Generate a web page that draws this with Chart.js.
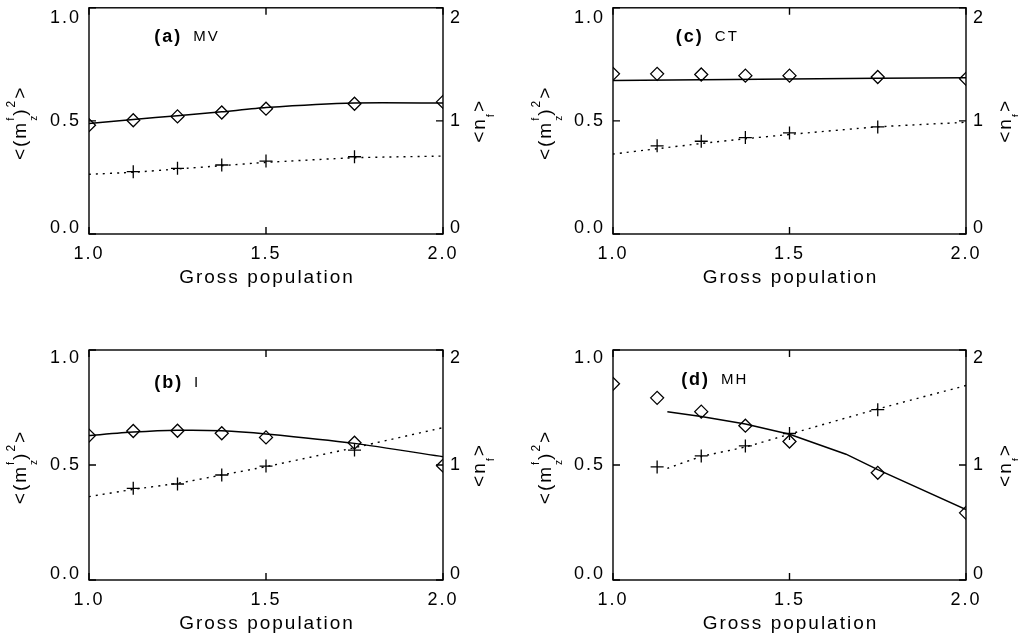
<!DOCTYPE html>
<html>
<head>
<meta charset="utf-8">
<title>Gross population</title>
<script src="https://cdn.jsdelivr.net/npm/chart.js@4.4.1/dist/chart.umd.min.js"></script>
<style>
  html, body { margin: 0; padding: 0; background: #fff; }
  #quadro { position: relative; width: 1018px; height: 640px; overflow: hidden; background: #fff; }
  canvas { position: absolute; }
</style>
</head>
<body>
<div id="quadro">
  <canvas id="painelA" width="509" height="320" style="left:0px;top:0px"></canvas>
  <canvas id="painelC" width="509" height="320" style="left:509px;top:0px"></canvas>
  <canvas id="painelB" width="509" height="320" style="left:0px;top:320px"></canvas>
  <canvas id="painelD" width="509" height="320" style="left:509px;top:320px"></canvas>
</div>
<script>
// Eixos
const gross = [1.0, 1.125, 1.25, 1.375, 1.5, 1.75, 2.0];
const xTicks = [1.0, 1.5, 2.0];
const xLabels = ['1.0', '1.5', '2.0'];
const mzTicks = [0.0, 0.5, 1.0];
const mzLabels = ['0.0', '0.5', '1.0'];
const nfTicks = [0, 1, 2];
const nfLabels = ['0', '1', '2'];

// (a) MV
const mzMV = [0.481, 0.503, 0.520, 0.537, 0.554, 0.576, 0.584];
const nfMV = [null, 0.551, 0.581, 0.610, 0.645, 0.683, null];
const fitMzMV = [0.488, 0.506, 0.523, 0.540, 0.559, 0.579, 0.579];
const fitNfMV = [0.528, 0.546, 0.575, 0.604, 0.633, 0.674, 0.689];

// (c) CT
const mzCT = [0.708, 0.708, 0.705, 0.700, 0.700, 0.694, 0.686];
const nfCT = [null, 0.780, 0.820, 0.853, 0.894, 0.947, null];
const fitMzCTx = [1.0, 1.5, 2.0];
const fitMzCT = [0.679, 0.685, 0.691];
const fitNfCT = [0.707, 0.754, 0.800, 0.842, 0.880, 0.947, 0.988];

// (b) I
const mzI = [0.628, 0.648, 0.649, 0.638, 0.620, 0.597, 0.497];
const nfI = [null, 0.797, 0.835, 0.913, 0.991, 1.130, null];
const fitMzI = [0.628, 0.643, 0.651, 0.649, 0.635, 0.594, 0.536];
const fitNfI = [0.725, 0.788, 0.841, 0.913, 0.986, 1.151, 1.325];

// (d) MH
const mzMH = [0.853, 0.792, 0.732, 0.671, 0.602, 0.466, 0.292];
const nfMH = [null, 0.983, 1.079, 1.166, 1.274, 1.481, null];
const fitMzMHx = [1.154, 1.25, 1.375, 1.5, 1.66, 1.75, 2.0];
const fitMzMH = [0.732, 0.711, 0.678, 0.634, 0.547, 0.480, 0.306];
const fitNfMHx = [1.154, 1.25, 1.375, 1.5, 1.75, 2.0];
const fitNfMH = [0.971, 1.073, 1.157, 1.268, 1.487, 1.691];

const FONTE = '"Liberation Sans", Arial, Helvetica, sans-serif';

function pares(xs, ys) {
    return xs.map((x, i) => ({ x: x, y: ys[i] })).filter(p => p.y !== null);
}

// label de cima desce, label de baixo sobe (como no original)
function rotulo(lista, i, n) {
    if (i === 0) return [lista[i], ''];
    if (i === n - 1) return ['', lista[i]];
    return lista[i];
}

function fonteTick(c, baixo, cima) {
    let lh = 1.2;
    if (c.index === 0) lh = baixo;
    if (c.index === 2) lh = cima;
    return { family: FONTE, size: 18, lineHeight: lh };
}

// texto girado (m_z^f)^2 etc
function textoVertical(ctx, cx, cy, partes) {
    ctx.save();
    ctx.translate(cx, cy);
    ctx.rotate(-Math.PI / 2);
    ctx.textBaseline = 'middle';
    ctx.textAlign = 'left';
    ctx.fillStyle = '#000';
    let total = 0;
    partes.forEach(p => {
        ctx.font = p.s + 'px ' + FONTE;
        p.w = ctx.measureText(p.t).width;
        if (!p.junto) total += p.w;
    });
    let x = -total / 2;
    partes.forEach(p => {
        ctx.font = p.s + 'px ' + FONTE;
        ctx.fillText(p.t, x, p.dy || 0);
        if (!p.junto) x += p.w;
    });
    ctx.restore();
}

const caixaPlugin = {
    id: 'caixa',
    beforeDraw(chart) {
        chart.ctx.letterSpacing = '2px';
    },
    afterDraw(chart) {
        const ctx = chart.ctx;
        const a = chart.chartArea;
        const sx = chart.scales.x, sy = chart.scales.y, sy2 = chart.scales.y2;
        const p = chart.options.plugins.caixa;
        ctx.save();
        ctx.strokeStyle = '#000';
        ctx.lineWidth = 1.4;
        ctx.strokeRect(a.left, a.top, a.right - a.left, a.bottom - a.top);
        ctx.beginPath();
        xTicks.forEach(v => {
            const px = sx.getPixelForValue(v);
            ctx.moveTo(px, a.bottom); ctx.lineTo(px, a.bottom - 7);
            ctx.moveTo(px, a.top); ctx.lineTo(px, a.top + 7);
        });
        mzTicks.forEach(v => {
            const py = sy.getPixelForValue(v);
            ctx.moveTo(a.left, py); ctx.lineTo(a.left + 7, py);
        });
        nfTicks.forEach(v => {
            const py = sy2.getPixelForValue(v);
            ctx.moveTo(a.right, py); ctx.lineTo(a.right - 7, py);
        });
        ctx.stroke();

        // titulo do eixo x
        ctx.fillStyle = '#000';
        ctx.font = '19px ' + FONTE;
        ctx.textAlign = 'center';
        ctx.textBaseline = 'middle';
        ctx.fillText('Gross population', (a.left + a.right) / 2 + 1, a.bottom + 44);

        // letra do painel
        const tx = sx.getPixelForValue(p.tagX);
        const ty = sy.getPixelForValue(p.tagY);
        ctx.textAlign = 'left';
        ctx.font = 'bold 18px ' + FONTE;
        ctx.fillText(p.letra, tx, ty);
        const w = ctx.measureText(p.letra).width;
        ctx.font = '15px ' + FONTE;
        ctx.fillText(p.nome, tx + w + 11, ty);
        ctx.restore();

        const meio = (a.top + a.bottom) / 2;
        textoVertical(ctx, a.left + p.esq, meio + 2, [
            { t: '<(m', s: 19 },
            { t: 'z', s: 10, dy: 13, junto: true },
            { t: 'f', s: 11, dy: -10 },
            { t: ')', s: 19 },
            { t: '2', s: 12, dy: -9 },
            { t: '>', s: 19 }
        ]);
        textoVertical(ctx, a.right + p.dir, meio, [
            { t: '<n', s: 19 },
            { t: 'f', s: 11, dy: 11 },
            { t: '>', s: 19 }
        ]);
        ctx.letterSpacing = '0px';
    }
};

function criarPainel(p) {
    const ctx = document.getElementById(p.id).getContext('2d');
    return new Chart(ctx, {
        type: 'line',
        data: {
            datasets: [
                {
                    label: '<(mz f)2>',
                    data: pares(gross, p.mz),
                    showLine: false,
                    pointStyle: 'rectRot',
                    pointRadius: 6.5,
                    pointBorderWidth: 1.3,
                    borderColor: '#000',
                    backgroundColor: 'rgba(0,0,0,0)',
                    yAxisID: 'y',
                    clip: 0
                },
                {
                    label: 'ajuste mz',
                    data: pares(p.fitMzX, p.fitMz),
                    borderColor: '#000',
                    borderWidth: 1.5,
                    pointRadius: 0,
                    tension: p.tensao,
                    yAxisID: 'y',
                    clip: 0
                },
                {
                    label: '<nf>',
                    data: pares(gross, p.nf),
                    showLine: false,
                    pointStyle: 'cross',
                    pointRadius: 6.5,
                    pointBorderWidth: 1.3,
                    borderColor: '#000',
                    backgroundColor: 'rgba(0,0,0,0)',
                    yAxisID: 'y2',
                    clip: 0
                },
                {
                    label: 'ajuste nf',
                    data: pares(p.fitNfX, p.fitNf),
                    borderColor: '#000',
                    borderWidth: 1.4,
                    borderDash: [2, 5],
                    pointRadius: 0,
                    tension: 0.2,
                    yAxisID: 'y2',
                    clip: 0
                }
            ]
        },
        options: {
            responsive: false,
            animation: false,
            devicePixelRatio: 1,
            events: [],
            layout: { padding: { top: p.topo, left: 0, right: 0, bottom: 0 } },
            plugins: {
                legend: { display: false },
                tooltip: { enabled: false },
                caixa: p
            },
            scales: {
                x: {
                    type: 'linear',
                    min: 1, max: 2,
                    afterBuildTicks: s => { s.ticks = xTicks.map(v => ({ value: v })); },
                    afterFit: s => { s.height = p.xH; s.paddingLeft = 0; s.paddingRight = 0; },
                    grid: { display: false, drawTicks: false },
                    border: { display: false },
                    ticks: {
                        autoSkip: false, maxRotation: 0, padding: 9, color: '#000',
                        font: { family: FONTE, size: 18 },
                        callback: (v, i) => xLabels[i]
                    }
                },
                y: {
                    position: 'left',
                    min: 0, max: 1,
                    afterBuildTicks: s => { s.ticks = mzTicks.map(v => ({ value: v })); },
                    afterFit: s => { s.width = p.leftW; s.paddingTop = 0; s.paddingBottom = 0; },
                    grid: { display: false, drawTicks: false },
                    border: { display: false },
                    ticks: {
                        autoSkip: false, padding: 8, color: '#000',
                        font: c => fonteTick(c, '11px', p.cima),
                        callback: (v, i) => rotulo(mzLabels, i, mzLabels.length)
                    }
                },
                y2: {
                    position: 'right',
                    min: 0, max: 2,
                    afterBuildTicks: s => { s.ticks = nfTicks.map(v => ({ value: v })); },
                    afterFit: s => { s.width = p.rightW; s.paddingTop = 0; s.paddingBottom = 0; },
                    grid: { display: false, drawTicks: false },
                    border: { display: false },
                    ticks: {
                        autoSkip: false, padding: 7, color: '#000',
                        font: c => fonteTick(c, '11px', p.cima),
                        callback: (v, i) => rotulo(nfLabels, i, nfLabels.length)
                    }
                }
            }
        },
        plugins: [caixaPlugin]
    });
}

criarPainel({ id: 'painelA', letra: '(a)', nome: 'MV', mz: mzMV, nf: nfMV,
    fitMzX: gross, fitMz: fitMzMV, fitNfX: gross, fitNf: fitNfMV, tensao: 0.2,
    topo: 6, xH: 86, leftW: 89, rightW: 66, cima: '20px', tagX: 1.184, tagY: 0.871, esq: -68, dir: 37 });
criarPainel({ id: 'painelC', letra: '(c)', nome: 'CT', mz: mzCT, nf: nfCT,
    fitMzX: fitMzCTx, fitMz: fitMzCT, fitNfX: gross, fitNf: fitNfCT, tensao: 0.2,
    topo: 6, xH: 86, leftW: 104, rightW: 52, cima: '20px', tagX: 1.178, tagY: 0.871, esq: -67, dir: 40 });
criarPainel({ id: 'painelB', letra: '(b)', nome: 'I', mz: mzI, nf: nfI,
    fitMzX: gross, fitMz: fitMzI, fitNfX: gross, fitNf: fitNfI, tensao: 0.2,
    topo: 30, xH: 60, leftW: 89, rightW: 66, cima: '17px', tagX: 1.184, tagY: 0.857, esq: -68, dir: 37 });
criarPainel({ id: 'painelD', letra: '(d)', nome: 'MH', mz: mzMH, nf: nfMH,
    fitMzX: fitMzMHx, fitMz: fitMzMH, fitNfX: fitNfMHx, fitNf: fitNfMH, tensao: 0,
    topo: 30, xH: 60, leftW: 104, rightW: 52, cima: '17px', tagX: 1.193, tagY: 0.87, esq: -67, dir: 40 });
</script>
</body>
</html>
